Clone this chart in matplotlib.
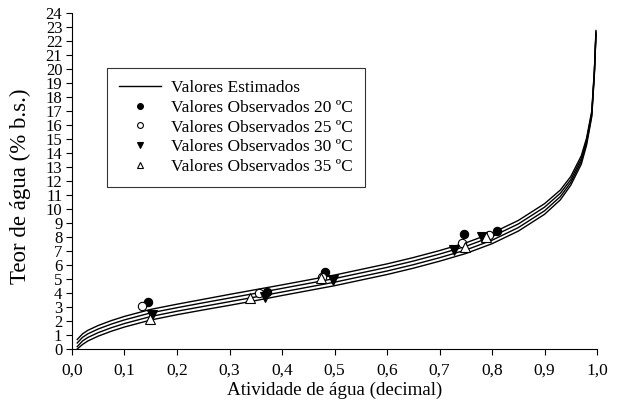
import matplotlib
matplotlib.use("Agg")
import matplotlib.pyplot as plt
from matplotlib.ticker import FixedLocator, FuncFormatter

plt.rcParams['font.family'] = ['Liberation Serif', 'DejaVu Serif']

# Estimated curves
aw_fit = [0.01, 0.02, 0.03, 0.05, 0.075, 0.1, 0.15, 0.2, 0.25, 0.3, 0.35, 0.4, 0.45,
          0.5, 0.55, 0.6, 0.65, 0.7, 0.75, 0.8, 0.85, 0.9, 0.93, 0.95, 0.97, 0.98,
          0.99, 0.995, 0.998]
m_fit_20 = [0.68, 1.08, 1.33, 1.68, 2.03, 2.33, 2.83, 3.20, 3.55, 3.90, 4.24, 4.58, 4.93,
            5.28, 5.68, 6.08, 6.53, 7.03, 7.58, 8.28, 9.18, 10.38, 11.35, 12.32, 13.8, 15.05,
            17.0, 19.95, 22.75]
m_fit_25 = [0.43, 0.83, 1.08, 1.43, 1.78, 2.08, 2.58, 2.95, 3.30, 3.64, 3.98, 4.33, 4.68,
            5.03, 5.43, 5.83, 6.28, 6.78, 7.33, 8.03, 8.93, 10.13, 11.12, 12.1, 13.6, 14.88,
            16.87, 19.85, 22.65]
m_fit_30 = [0.17, 0.57, 0.82, 1.17, 1.52, 1.82, 2.32, 2.70, 3.04, 3.38, 3.72, 4.07, 4.42,
            4.77, 5.17, 5.57, 6.02, 6.52, 7.07, 7.77, 8.67, 9.87, 10.88, 11.9, 13.4, 14.72,
            16.73, 19.75, 22.55]
m_fit_35 = [0.0, 0.32, 0.57, 0.92, 1.27, 1.57, 2.07, 2.45, 2.79, 3.12, 3.46, 3.82, 4.17,
            4.52, 4.92, 5.32, 5.77, 6.27, 6.82, 7.52, 8.42, 9.62, 10.65, 11.7, 13.2, 14.55,
            16.6, 19.65, 22.45]

# Observed values
aw_20 = [0.144, 0.371, 0.482, 0.746, 0.810]
m_20 = [3.33, 4.10, 5.52, 8.20, 8.45]
aw_25 = [0.133, 0.356, 0.477, 0.742, 0.794]
m_25 = [3.07, 4.02, 5.15, 7.60, 8.14]
aw_30 = [0.152, 0.367, 0.498, 0.727, 0.780]
m_30 = [2.43, 3.74, 4.93, 7.07, 7.98]
aw_35 = [0.149, 0.339, 0.474, 0.748, 0.789]
m_35 = [2.14, 3.62, 5.07, 7.30, 7.98]

x_ticks = [0.0, 0.1, 0.2, 0.3, 0.4, 0.5, 0.6, 0.7, 0.8, 0.9, 1.0]
y_ticks = list(range(0, 25))

legend_labels = ['Valores Estimados', 'Valores Observados 20 ºC', 'Valores Observados 25 ºC',
                 'Valores Observados 30 ºC', 'Valores Observados 35 ºC']

fig = plt.figure(figsize=(6.19, 4.03), dpi=100)
ax = fig.add_axes([0.1163, 0.134, 0.8482, 0.8337])

line_kw = dict(color='black', lw=1.0)
h_line, = ax.plot(aw_fit, m_fit_20, **line_kw)
ax.plot(aw_fit, m_fit_25, **line_kw)
ax.plot(aw_fit, m_fit_30, **line_kw)
ax.plot(aw_fit, m_fit_35, **line_kw)

ms = 6
h20, = ax.plot(aw_20, m_20, 'o', ms=ms, mfc='black', mec='black', mew=0.8, ls='none')
h25, = ax.plot(aw_25, m_25, 'o', ms=ms, mfc='white', mec='black', mew=0.8, ls='none')
h30, = ax.plot(aw_30, m_30, 'v', ms=ms + 0.5, mfc='black', mec='black', mew=0.8, ls='none')
h35, = ax.plot(aw_35, m_35, '^', ms=ms + 0.5, mfc='white', mec='black', mew=0.8, ls='none')

ax.set_xlim(0, 1.0)
ax.set_ylim(0, 24)
ax.xaxis.set_major_locator(FixedLocator(x_ticks))
ax.yaxis.set_major_locator(FixedLocator(y_ticks))
ax.xaxis.set_major_formatter(FuncFormatter(lambda v, p: f"{v:.1f}".replace('.', ',')))
ax.yaxis.set_major_formatter(FuncFormatter(lambda v, p: f"{int(round(v))}"))
ax.tick_params(direction='out', length=4, width=0.8, pad=3, colors='black')
ax.tick_params(axis='x', pad=6, labelsize=12.5)
ax.tick_params(axis='y', labelsize=12)
for s in ['top', 'right']:
    ax.spines[s].set_visible(False)
for s in ['left', 'bottom']:
    ax.spines[s].set_linewidth(0.8)

ax.set_xlabel('Atividade de água (decimal)', fontsize=13.7)
ax.xaxis.set_label_coords(0.50, -0.122)
ax.xaxis.label.set_va('center')
ax.set_ylabel('Teor de água (% b.s.)', fontsize=16.5)
ax.yaxis.set_label_coords(-0.099, 0.485)
ax.yaxis.label.set_va('center')

leg = ax.legend([h_line, h20, h25, h30, h35], legend_labels,
                loc='upper left', bbox_to_anchor=(0.1729, 0.8313),
                bbox_transform=fig.transFigure, borderaxespad=0,
                fontsize=12.5, frameon=True, fancybox=False, markerscale=0.7,
                handlelength=2.4, labelspacing=0.2, borderpad=0.7, handletextpad=0.6)
leg.get_frame().set_edgecolor('black')
leg.get_frame().set_linewidth(0.8)

fig.savefig('out.png', dpi=100)
